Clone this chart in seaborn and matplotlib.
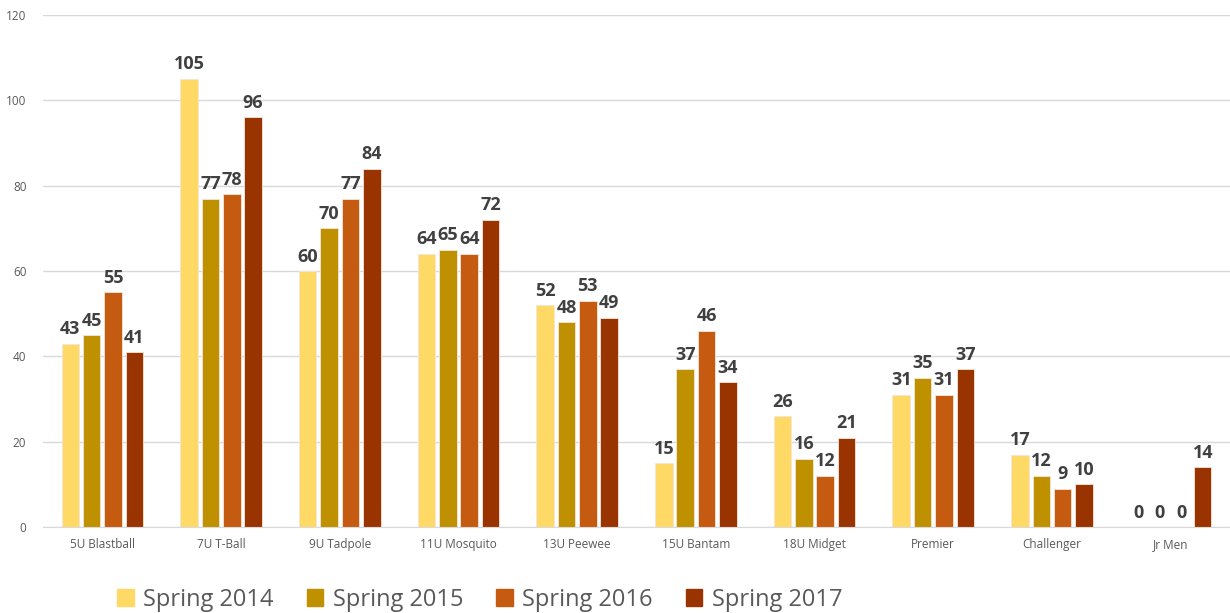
import pandas as pd
import matplotlib.pyplot as plt
import seaborn as sns

# Registrations by division and season
divisions = ['5U Blastball', '7U T-Ball', '9U Tadpole', '11U Mosquito', '13U Peewee',
             '15U Bantam', '18U Midget', 'Premier', 'Challenger', 'Jr Men']
seasons = ['Spring 2014', 'Spring 2015', 'Spring 2016', 'Spring 2017']
spring_2014 = [43, 105, 60, 64, 52, 15, 26, 31, 17, 0]
spring_2015 = [45, 77, 70, 65, 48, 37, 16, 35, 12, 0]
spring_2016 = [55, 78, 77, 64, 53, 46, 12, 31, 9, 0]
spring_2017 = [41, 96, 84, 72, 49, 34, 21, 37, 10, 14]

colors = ['#FFD966', '#BF9000', '#C55A11', '#993300']

rows = []
for season, vals in zip(seasons, [spring_2014, spring_2015, spring_2016, spring_2017]):
    for d, v in zip(divisions, vals):
        rows.append({'Division': d, 'Season': season, 'Count': v})
df = pd.DataFrame(rows)

sns.set_style('white')
plt.rcParams['font.family'] = ['Open Sans', 'DejaVu Sans']

fig = plt.figure(figsize=(12.3, 6.13), dpi=100)
ax = fig.add_axes([0.035, 0.14, 0.965, 0.8355])

sns.barplot(data=df, x='Division', y='Count', hue='Season', palette=colors, saturation=1,
            width=0.72, gap=0.18, ax=ax, legend=False, edgecolor='#F2E6D9', linewidth=0.6)

for c in ax.containers:
    ax.bar_label(c, padding=4, fontsize=13, fontweight='bold', color='#404040')

ax.set_ylim(0, 120)
ax.set_yticks(range(0, 121, 20))
ax.set_xlim(-0.5, len(divisions) - 0.5)
ax.yaxis.grid(True, color='#D9D9D9', linewidth=1)
ax.set_axisbelow(True)
for s in ['top', 'right', 'left']:
    ax.spines[s].set_visible(False)
ax.spines['bottom'].set_color('#D9D9D9')
ax.tick_params(axis='both', length=0, labelsize=8.5, labelcolor='#595959')
ax.tick_params(axis='x', pad=8)
ax.tick_params(axis='y', pad=12)
ax.set_xlabel('')
ax.set_ylabel('')

handles = [plt.Rectangle((0, 0), 1, 1, color=c) for c in colors]
fig.legend(handles, seasons, loc='center', bbox_to_anchor=(0.39, 0.022), ncol=4,
           frameon=False, fontsize=17, handlelength=0.7, handleheight=0.7,
           handletextpad=0.4, columnspacing=1.4, labelcolor='#595959')

fig.savefig('out.png', dpi=100)
